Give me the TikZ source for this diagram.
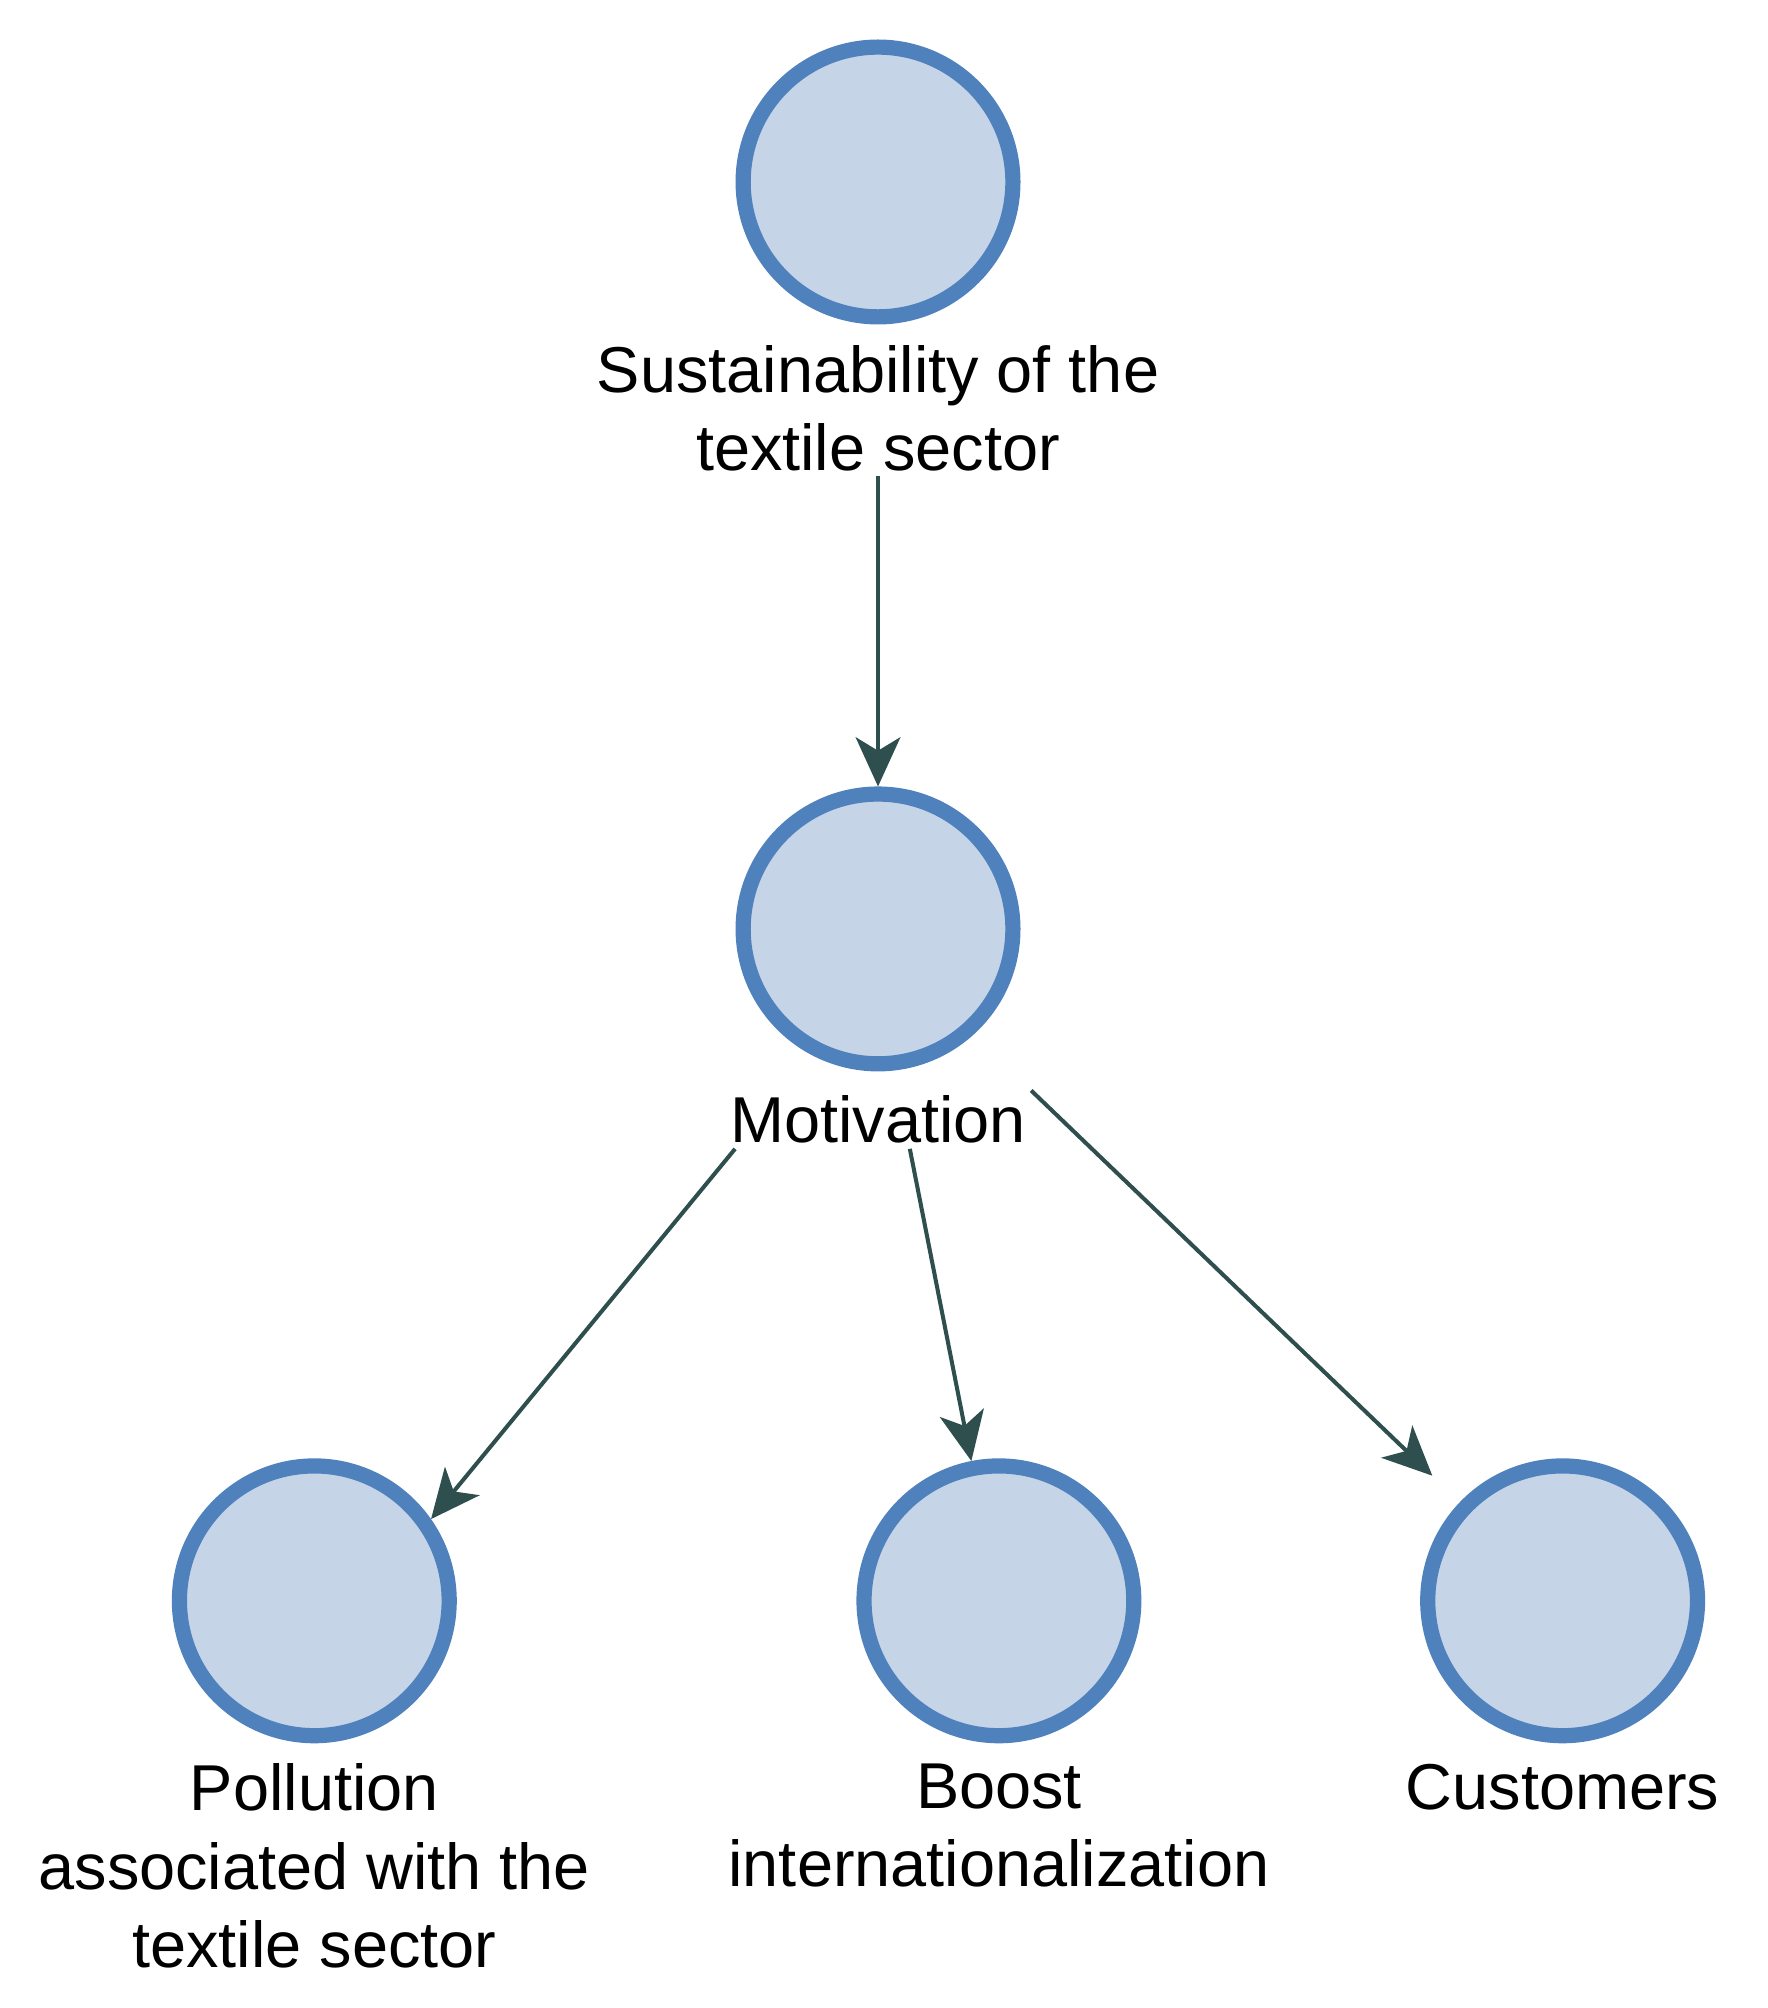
\documentclass[tikz,border=0pt]{standalone}
\usepackage{fontspec}
\setmainfont{Liberation Sans}
\usepackage{xcolor}
\usetikzlibrary{arrows,arrows.meta,positioning}
\definecolor{nodefill}{RGB}{197,212,230}
\definecolor{nodeline}{RGB}{79,129,189}
\definecolor{edgecol}{RGB}{47,79,79}
\tikzset{
  concept/.style={circle,draw=nodeline,fill=nodefill,line width=3.4pt,minimum size=2.12cm,inner sep=0},
  caption/.style={align=center,font=\fontsize{14.5}{17.5}\selectfont,inner sep=1pt},
  link/.style={-{Stealth[length=11pt,width=10pt,inset=3pt]},draw=edgecol,line width=0.9pt}
}
\begin{document}
\begin{tikzpicture}
\useasboundingbox (0,0) rectangle (13.89,-15.78);
\node[concept] (sust) at (6.90,-1.43){};
\node[caption,below=0.12cm of sust] (sustlbl){Sustainability of the\\textile sector};
\node[concept] (mot) at (6.90,-7.30){};
\node[caption,below=0.15cm of mot] (motlbl){Motivation};

\node[concept] (pol) at (2.47,-12.58){};
\node[caption,below=0.12cm of pol] (pollbl){Pollution\\associated with the\\textile sector};
\node[concept] (boost) at (7.85,-12.58){};
\node[caption,below=0.12cm of boost] (boostlbl){Boost\\internationalization};
\node[concept] (cust) at (12.28,-12.58){};
\node[caption,below=0.12cm of cust] (custlbl){Customers};

\draw[link] (sustlbl.south)--(mot);
\draw[link] ([xshift=0.08cm]motlbl.south west)--(pol.35);
\draw[link] ([xshift=0.25cm]motlbl.south)--(boost);
\draw[link,shorten >=0.3cm] (motlbl.north east)--(cust);
\end{tikzpicture}
\end{document}
